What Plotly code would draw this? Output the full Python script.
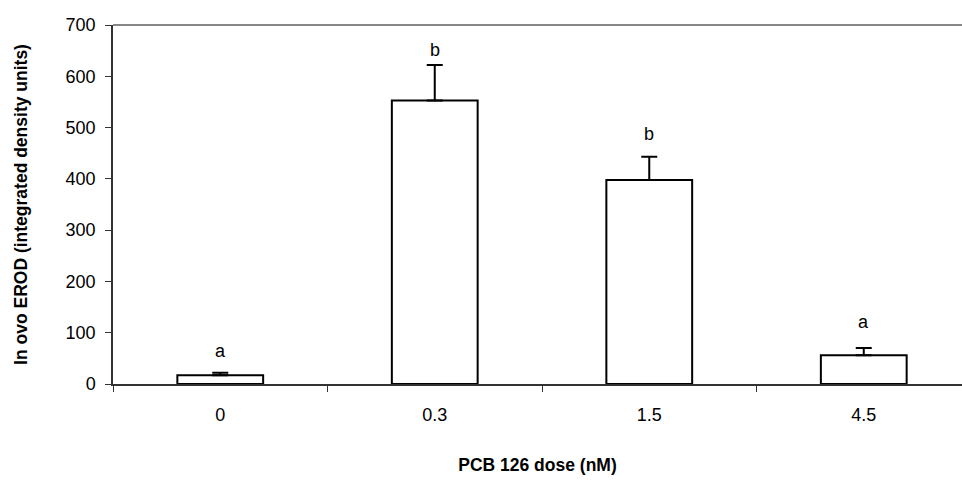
import plotly.graph_objects as go

doses = ["0", "0.3", "1.5", "4.5"]
erod_mean = [17, 553, 398, 56]
erod_se = [5, 69, 45, 14]
sig_letters = ["a", "b", "b", "a"]
letter_y = [64, 651, 487, 121]
y_ticks = [0, 100, 200, 300, 400, 500, 600, 700]

FONT = "Liberation Sans, Arial, sans-serif"

fig = go.Figure()
fig.add_trace(go.Bar(
    x=doses, y=erod_mean,
    marker=dict(color="white", line=dict(color="black", width=2)),
    error_y=dict(type="data", symmetric=False, array=erod_se,
                 arrayminus=[0] * len(erod_se),
                 color="black", thickness=2, width=8),
    showlegend=False,
))

# letters placed on the category index of each dose
for i, (t, yv) in enumerate(zip(sig_letters, letter_y)):
    fig.add_annotation(x=i, y=yv, text=t, showarrow=False,
                       font=dict(family=FONT, size=18, color="black"),
                       xref="x", yref="y")

# top border line of the plot area
fig.add_shape(type="line", xref="paper", yref="paper", x0=0, x1=1, y0=1, y1=1,
              line=dict(color="#888888", width=2))

fig.update_layout(
    width=962, height=484,
    margin=dict(l=113, r=0, t=25, b=100),
    paper_bgcolor="white", plot_bgcolor="white",
    bargap=0.6,
    font=dict(family=FONT, size=18, color="black"),
    xaxis=dict(
        type="category",
        range=[-0.5, 3.458],
        tickson="boundaries",
        ticks="outside", ticklen=6, tickcolor="#333333", tickwidth=1,
        showline=True, linecolor="#333333", linewidth=1.5,
        showgrid=False, zeroline=False,
        ticklabelstandoff=14,
        tickfont=dict(family=FONT, size=18, color="black"),
        title=dict(text="<b>PCB 126 dose (nM)</b>", standoff=34,
                   font=dict(family=FONT, size=17.5, color="black")),
    ),
    yaxis=dict(
        range=[0, 700],
        tickvals=y_ticks,
        ticks="outside", ticklen=6, tickcolor="#333333", tickwidth=1,
        showline=True, linecolor="#333333", linewidth=1.5,
        showgrid=False, zeroline=False,
        ticklabelstandoff=6,
        tickfont=dict(family=FONT, size=18, color="black"),
        title=dict(text="<b>In ovo EROD (integrated density units)</b>", standoff=33,
                   font=dict(family=FONT, size=17.5, color="black")),
    ),
)

fig.write_html("out.html")
